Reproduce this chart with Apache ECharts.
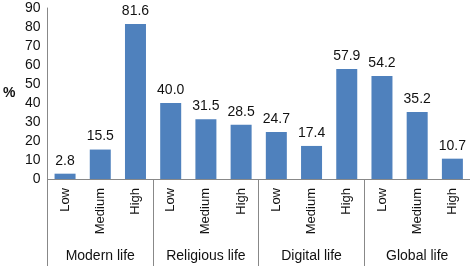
<!DOCTYPE html>
<html lang="en">
<head>
    <meta charset="UTF-8">
    <title>Bar chart</title>
    <script type="text/javascript" src="https://cdn.jsdelivr.net/npm/echarts@6/dist/echarts.min.js"></script>
</head>
<body style="margin:0">
<div id="main" style="width: 470px; height:266px;"></div>

<script>
    var levels = ['Low', 'Medium', 'High', 'Low', 'Medium', 'High', 'Low', 'Medium', 'High', 'Low', 'Medium', 'High'];
    var groups = ['Modern life', 'Religious life', 'Digital life', 'Global life'];
    var values = [2.8, 15.5, 81.6, 40.0, 31.5, 28.5, 24.7, 17.4, 57.9, 54.2, 35.2, 10.7];

    var myChart = echarts.init(document.getElementById('main'));
    var font = 'Liberation Sans, Arial, sans-serif';

    var option = {
        animation: false,
        textStyle: {fontFamily: font},
        grid: {left: 43, right: 0, top: 8, bottom: 87},
        xAxis: [
            {
                type: 'category',
                data: levels,
                axisLine: {lineStyle: {color: '#888'}},
                axisTick: {show: false},
                axisLabel: {rotate: 90, interval: 0, margin: 9, fontSize: 13, color: '#111', fontFamily: font}
            },
            {
                type: 'category',
                position: 'bottom',
                data: groups,
                axisLine: {show: false},
                axisTick: {show: true, length: 87, lineStyle: {color: '#888'}},
                axisLabel: {interval: 0, margin: 70, fontSize: 14, color: '#111', fontFamily: font}
            }
        ],
        yAxis: {
            type: 'value',
            min: 0,
            max: 90,
            interval: 10,
            name: '%',
            nameLocation: 'middle',
            nameRotate: 0,
            nameGap: 32,
            nameTextStyle: {fontSize: 14, color: '#111', fontFamily: font, fontWeight: 'bold'},
            axisLine: {show: true, lineStyle: {color: '#888'}},
            axisTick: {show: false},
            splitLine: {show: false},
            axisLabel: {margin: 7, fontSize: 14, color: '#111', fontFamily: font}
        },
        series: [
            {
                type: 'bar',
                data: values,
                barWidth: 21,
                itemStyle: {color: '#4f81bd'},
                label: {
                    show: true,
                    position: 'top',
                    distance: 6,
                    fontSize: 14,
                    color: '#111',
                    fontFamily: font,
                    formatter: function (p) { return p.value.toFixed(1); }
                }
            }
        ]
    };

    myChart.setOption(option);
</script>
</body>
</html>
